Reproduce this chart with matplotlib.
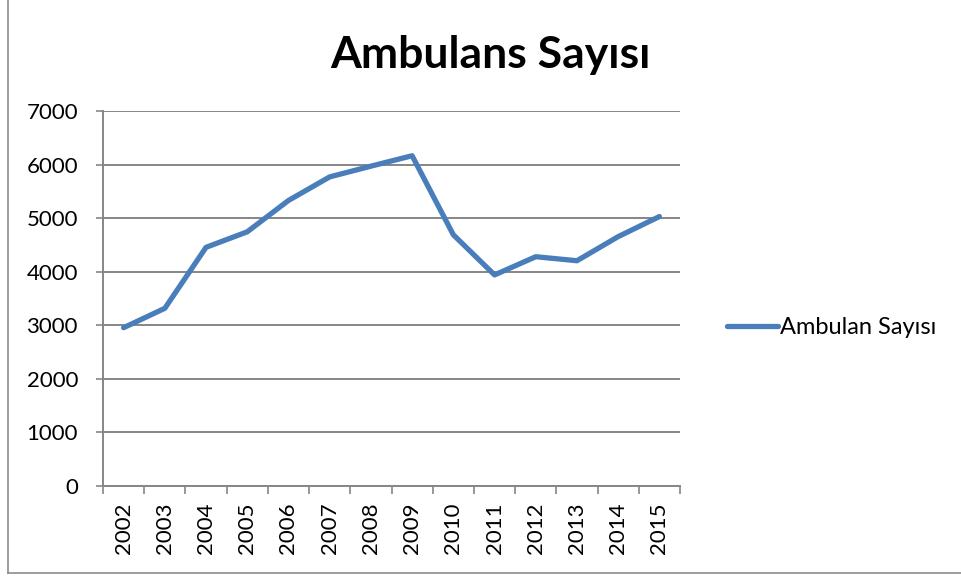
import matplotlib.pyplot as plt
from matplotlib.lines import Line2D
import numpy as np

# data
years = ['2002', '2003', '2004', '2005', '2006', '2007', '2008',
         '2009', '2010', '2011', '2012', '2013', '2014', '2015']
ambulances = [2955, 3317, 4455, 4745, 5330, 5770, 5970,
              6165, 4690, 3940, 4280, 4205, 4655, 5030]
y_ticks = [0, 1000, 2000, 3000, 4000, 5000, 6000, 7000]

title = 'Ambulans Sayısı'
series_name = 'Ambulan Sayısı'

plt.rcParams['font.family'] = ['Lato', 'DejaVu Sans']

line_color = '#4A7EBB'
grid_color = '#868686'

fig = plt.figure(figsize=(9.61, 5.79), dpi=100)
ax = fig.add_axes([103 / 961, 1 - 486 / 579, (680 - 103) / 961, (486 - 111) / 579])

x = np.arange(len(years))
ax.plot(x, ambulances, color=line_color, linewidth=3.8,
        solid_capstyle='round', label=series_name)

# axes, Excel style: ticks between categories
ax.set_xlim(-0.5, len(years) - 0.5)
ax.set_ylim(0, 7000)
ax.set_yticks(y_ticks)
ax.set_yticklabels([str(v) for v in y_ticks], fontsize=16)
ax.set_xticks(x)
ax.set_xticklabels(years, rotation=90, fontsize=16)
ax.set_xticks(np.arange(-0.5, len(years)), minor=True)
ax.tick_params(axis='x', which='major', length=0, pad=12)
ax.tick_params(axis='x', which='minor', length=6, color=grid_color, width=1.2)
ax.tick_params(axis='y', length=5, color=grid_color, width=1.2, pad=13)

ax.grid(axis='y', color=grid_color, linewidth=1.4)
ax.set_axisbelow(True)
for side in ['top', 'right']:
    ax.spines[side].set_visible(False)
for side in ['left', 'bottom']:
    ax.spines[side].set_color(grid_color)
    ax.spines[side].set_linewidth(1.4)

fig.text(490 / 961, 1 - 68 / 579, title, ha='center', va='baseline',
         fontsize=32, fontweight='bold')

fig.legend(loc='center left', bbox_to_anchor=(706 / 961, 1 - 328 / 579),
           frameon=False, fontsize=17, handlelength=2.15, handletextpad=0.1)

# chart border (left and bottom edges visible in the crop)
fig.add_artist(Line2D([8 / 961, 8 / 961], [1 - 573 / 579, 1.0],
                      transform=fig.transFigure, color='#8c8c8c', linewidth=1.2))
fig.add_artist(Line2D([8 / 961, 1.0], [1 - 573 / 579, 1 - 573 / 579],
                      transform=fig.transFigure, color='#8c8c8c', linewidth=1.2))

fig.savefig('out.png', dpi=100)
